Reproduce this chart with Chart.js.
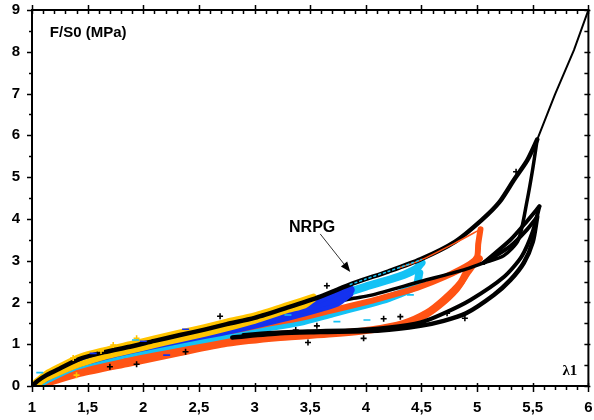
<!DOCTYPE html>
<html><head><meta charset="utf-8">
<script src="https://cdn.jsdelivr.net/npm/chart.js@4/dist/chart.umd.min.js"></script>
<style>html,body{margin:0;padding:0;background:#fff}canvas{display:block}</style>
</head><body>
<canvas id="c" width="594" height="420"></canvas>
<script>
// ---- tick values ----
const xTickValues = [1, 1.5, 2, 2.5, 3, 3.5, 4, 4.5, 5, 5.5, 6];
const yTickValues = [0, 1, 2, 3, 4, 5, 6, 7, 8, 9];

// ---- black series ----
const blackLoadX = [1, 1.05, 1.13, 1.25, 1.43, 1.65, 1.88, 2.1, 2.33, 2.55, 2.75, 3.0, 3.3, 3.59, 3.89, 4.2, 4.49, 4.8, 5.04, 5.2, 5.33, 5.45, 5.54];
const blackLoadY = [0, 0.12, 0.26, 0.42, 0.65, 0.81, 0.94, 1.08, 1.22, 1.35, 1.48, 1.63, 1.88, 2.14, 2.46, 2.74, 3.03, 3.45, 3.97, 4.4, 4.93, 5.4, 5.9];
const blackFinalX = [5.54, 5.7, 5.87, 6.0];
const blackFinalY = [5.9, 6.98, 8.04, 9.0];
const blackUn1X = [5.54, 5.5, 5.45, 5.37, 5.24, 5.06, 4.88, 4.49, 4.04, 3.89, 3.59, 3.44, 3.2, 2.95];
const blackUn1Y = [5.9, 5.2, 4.45, 3.49, 3.12, 2.95, 2.78, 2.5, 2.17, 2.1, 1.93, 1.82, 1.66, 1.52];
const blackRe2X = [5.06, 5.3, 5.45, 5.56];
const blackRe2Y = [2.95, 3.5, 3.95, 4.3];
const blackRe3X = [5.06, 5.3, 5.45, 5.54];
const blackRe3Y = [2.95, 3.35, 3.75, 4.05];
const blackUn2X = [5.56, 5.5, 5.4, 5.24, 4.94, 4.7, 4.49, 4.2, 3.9, 3.5, 3.2, 2.9];
const blackUn2Y = [4.3, 3.7, 3.1, 2.61, 2.06, 1.74, 1.52, 1.4, 1.34, 1.31, 1.28, 1.22];
const blackUn3X = [5.54, 5.5, 5.42, 5.3, 5.15, 4.9, 4.7, 4.49, 4.13, 3.59, 3.23, 2.8];
const blackUn3Y = [4.05, 3.45, 2.95, 2.54, 2.18, 1.74, 1.56, 1.44, 1.33, 1.29, 1.26, 1.16];
const blackDotsX = [3.65, 2.69, 3.56, 3.48, 4.16, 4.31, 3.98, 2.38, 1.94, 1.7, 4.89, 3.37, 5.35, 4.73];
const blackDotsY = [2.4, 1.67, 1.44, 1.04, 1.61, 1.66, 1.14, 0.82, 0.52, 0.46, 1.62, 1.34, 5.13, 1.74];

// ---- yellow series ----
const yellowLoadX = [1.0, 1.13, 1.25, 1.43, 1.65, 1.88, 2.1, 2.33, 2.55, 2.75, 3.0, 3.3, 3.53];
const yellowLoadY = [0.02, 0.3, 0.47, 0.7, 0.86, 1.0, 1.14, 1.28, 1.41, 1.54, 1.69, 1.94, 2.14];
const yellowUnX = [3.53, 3.45, 3.3, 3.0, 2.75, 2.55, 2.33, 2.1, 1.88, 1.65, 1.43, 1.25, 1.13, 1.05];
const yellowUnY = [2.08, 1.93, 1.82, 1.56, 1.38, 1.25, 1.12, 0.98, 0.84, 0.7, 0.52, 0.33, 0.18, 0.04];
const yellowDotsX = [1.37, 1.73, 1.94, 1.4, 1.62];
const yellowDotsY = [0.67, 0.98, 1.14, 0.26, 0.84];

// ---- blue series ----
const blueLoadX = [1.0, 1.25, 1.65, 2.1, 2.55, 3.0, 3.3, 3.59, 3.86];
const blueLoadY = [0, 0.38, 0.76, 1.03, 1.3, 1.56, 1.8, 2.06, 2.36];
const blueUnAX = [3.86, 3.75, 3.59, 3.3, 3.0, 2.7];
const blueUnAY = [2.3, 2.12, 1.98, 1.74, 1.52, 1.33];
const blueUnBX = [3.86, 3.75, 3.59, 3.3, 3.0, 2.7, 2.4, 2.0, 1.7, 1.4, 1.2, 1.05];
const blueUnBY = [2.2, 1.98, 1.84, 1.63, 1.44, 1.27, 1.12, 0.9, 0.72, 0.5, 0.28, 0.06];
const blueMarksX = [2.38, 1.55, 2.21, 2.0];
const blueMarksY = [1.36, 0.78, 0.74, 1.07];

// ---- cyan series ----
const cyanLoadX = [3.86, 4.0, 4.2, 4.35, 4.5];
const cyanLoadY = [2.43, 2.56, 2.74, 2.88, 3.03];
const cyanUpX = [4.5, 4.45, 4.3, 4.0, 3.7, 3.4, 3.1, 2.8];
const cyanUpY = [2.95, 2.8, 2.62, 2.38, 2.12, 1.9, 1.7, 1.5];
const cyanLowX = [4.48, 4.45, 4.2, 4.0, 3.7, 3.4, 3.0, 2.6, 2.2, 1.8, 1.4, 1.15, 1.03];
const cyanLowY = [2.7, 2.4, 2.1, 1.95, 1.74, 1.53, 1.35, 1.15, 0.95, 0.74, 0.48, 0.18, 0];
const cyanMarksX = [4.01, 3.74, 4.4, 4.14, 1.07, 1.93, 3.3];
const cyanMarksY = [1.58, 1.54, 2.18, 2.5, 0.32, 1.1, 1.7];

// ---- orange series ----
const orangeLoadX = [1.0, 1.16, 1.43, 1.88, 2.33, 2.75, 3.0, 3.3, 3.5];
const orangeLoadY = [0, 0.16, 0.38, 0.64, 0.9, 1.12, 1.3, 1.55, 1.75];
const orangeTopX = [4.3, 4.49, 4.8, 5.03];
const orangeTopY = [2.83, 3.01, 3.42, 3.75];
const orangeMidX = [5.03, 5.01, 5.0, 4.94, 4.7, 4.46, 4.2, 4.04, 3.68, 3.4, 3.14, 2.8];
const orangeMidY = [3.75, 3.4, 3.1, 2.93, 2.6, 2.35, 2.15, 2.03, 1.8, 1.62, 1.5, 1.32];
const orangeLowAX = [5.02, 4.94, 4.85, 4.7, 4.55, 4.34, 4.04, 3.7, 3.23, 2.75, 2.33, 1.88, 1.43, 1.2, 1.05];
const orangeLowAY = [3.05, 2.9, 2.46, 2.06, 1.75, 1.5, 1.34, 1.25, 1.16, 1.02, 0.8, 0.55, 0.3, 0.12, 0];
const orangeLowBX = [5.0, 4.92, 4.82, 4.66, 4.5, 4.3];
const orangeLowBY = [3.0, 2.7, 2.3, 1.9, 1.62, 1.45];

// ---- colours ----
const BLACK = '#000000', YELLOW = '#FFC400', BLUE = '#1432F0', CYAN = '#14C2F5', ORANGE = '#FF5314';

const pts = (xs, ys) => xs.map((x, i) => ({ x: x, y: ys[i] }));
function curve(xs, ys, color, width, order, extra) {
  return Object.assign({
    data: pts(xs, ys), showLine: true, borderColor: color, backgroundColor: color,
    borderWidth: width, pointRadius: 0, tension: 0.25, order: order,
    borderCapStyle: 'round', borderJoinStyle: 'round'
  }, extra || {});
}
function marks(xs, ys, color, style, r, order) {
  return { data: pts(xs, ys), showLine: false, pointStyle: style, pointRadius: r,
    borderColor: color, backgroundColor: color, pointBorderWidth: 1.6, order: order };
}

const datasets = [
  marks(blackDotsX, blackDotsY, BLACK, 'cross', 3, 1),
  marks(cyanMarksX, cyanMarksY, CYAN, 'line', 3.5, 2),
  marks(blueMarksX, blueMarksY, BLUE, 'line', 3.5, 2),
  marks(yellowDotsX, yellowDotsY, YELLOW, 'cross', 3, 2),
  curve(cyanLoadX, cyanLoadY, CYAN, 1.5, 3, { borderDash: [2, 3] }),
  curve(orangeTopX, orangeTopY, ORANGE, 1.5, 3),
  curve(blackLoadX, blackLoadY, BLACK, 4.5, 4),
  curve(blackFinalX, blackFinalY, BLACK, 2, 4, { tension: 0 }),
  curve(blackRe2X, blackRe2Y, BLACK, 4, 4),
  curve(blackRe3X, blackRe3Y, BLACK, 4, 4),
  curve(blackUn2X, blackUn2Y, BLACK, 4, 4),
  curve(blackUn3X, blackUn3Y, BLACK, 4.5, 4),
  curve(yellowLoadX, yellowLoadY, YELLOW, 6, 5),
  curve(yellowUnX, yellowUnY, YELLOW, 6, 5),
  curve(blueLoadX, blueLoadY, BLUE, 6, 6),
  curve(blueUnAX, blueUnAY, BLUE, 9, 6),
  curve(blueUnBX, blueUnBY, BLUE, 6, 6),
  curve(blackUn1X, blackUn1Y, BLACK, 3.5, 6.5),
  curve(orangeMidX, orangeMidY, ORANGE, 6, 6.8),
  curve(cyanUpX, cyanUpY, CYAN, 8, 7),
  curve(cyanLowX, cyanLowY, CYAN, 8, 7),
  curve(orangeLoadX, orangeLoadY, ORANGE, 5, 8),
  curve(orangeLowAX, orangeLowAY, ORANGE, 7, 8),
  curve(orangeLowBX, orangeLowBY, ORANGE, 5, 8)
];

const FONT = '"Liberation Sans", Arial, sans-serif';

const framePlugin = {
  id: 'frame',
  afterDraw(chart) {
    const ctx = chart.ctx, a = chart.chartArea;
    const xs = chart.scales.x, ys = chart.scales.y;
    ctx.save();
    ctx.strokeStyle = '#000';
    ctx.lineWidth = 2;
    ctx.strokeRect(a.left, a.top, a.right - a.left, a.bottom - a.top);
    ctx.lineWidth = 1.5;
    ctx.beginPath();
    for (let i = 10; i <= 60; i++) {
      const v = i / 10;
      const px = Math.round(xs.getPixelForValue(v)) + 0.5;
      const major = i % 5 === 0;
      ctx.moveTo(px, a.bottom + (major ? -3 : 0));
      ctx.lineTo(px, a.bottom + (major ? 6 : 4));
      ctx.moveTo(px, a.top + (major ? -5 : 0));
      ctx.lineTo(px, a.top + 4);
    }
    for (let i = 0; i <= 18; i++) {
      const v = i / 2;
      const py = Math.round(ys.getPixelForValue(v)) + 0.5;
      const major = i % 2 === 0;
      ctx.moveTo(a.left - (major ? 5 : 3), py);
      ctx.lineTo(a.left, py);
      ctx.moveTo(a.right - 4, py);
      ctx.lineTo(a.right + (major ? 2 : 0), py);
    }
    ctx.stroke();

    ctx.fillStyle = '#000';
    ctx.textBaseline = 'alphabetic';
    ctx.textAlign = 'left';
    ctx.font = 'bold 15px ' + FONT;
    ctx.fillText('F/S0 (MPa)', xs.getPixelForValue(1.16), ys.getPixelForValue(8.35));
    ctx.font = 'bold 16px ' + FONT;
    ctx.fillText('NRPG', xs.getPixelForValue(3.31), ys.getPixelForValue(3.69));
    ctx.textAlign = 'right';
    ctx.font = 'bold 15px "Liberation Serif", "Times New Roman", serif';
    ctx.fillText('λ1', xs.getPixelForValue(5.9), ys.getPixelForValue(0.26));

    const x1 = xs.getPixelForValue(3.59), y1 = ys.getPixelForValue(3.64);
    const x2 = xs.getPixelForValue(3.86), y2 = ys.getPixelForValue(2.73);
    const ang = Math.atan2(y2 - y1, x2 - x1);
    ctx.lineWidth = 1;
    ctx.strokeStyle = '#333';
    ctx.beginPath();
    ctx.moveTo(x1, y1);
    ctx.lineTo(x2 - 8 * Math.cos(ang), y2 - 8 * Math.sin(ang));
    ctx.stroke();
    ctx.fillStyle = '#000';
    ctx.beginPath();
    ctx.moveTo(x2, y2);
    ctx.lineTo(x2 - 10 * Math.cos(ang) + 4 * Math.sin(ang), y2 - 10 * Math.sin(ang) - 4 * Math.cos(ang));
    ctx.lineTo(x2 - 10 * Math.cos(ang) - 4 * Math.sin(ang), y2 - 10 * Math.sin(ang) + 4 * Math.cos(ang));
    ctx.closePath();
    ctx.fill();
    ctx.restore();
  }
};

new Chart(document.getElementById('c'), {
  type: 'scatter',
  data: { datasets: datasets },
  options: {
    responsive: false,
    animation: false,
    devicePixelRatio: 1,
    layout: { padding: { top: 10, right: 4, bottom: 0, left: 0 } },
    plugins: { legend: { display: false }, tooltip: { enabled: false } },
    elements: { line: { fill: false } },
    scales: {
      x: {
        type: 'linear', min: 1, max: 6,
        afterBuildTicks: (s) => { s.ticks = xTickValues.map(v => ({ value: v })); },
        afterFit: (s) => { s.height = 34; s.paddingLeft = 0; s.paddingRight = 0; },
        grid: { display: false, drawTicks: false },
        border: { display: false },
        ticks: {
          color: '#000', padding: 13, maxRotation: 0, autoSkip: false,
          font: { family: FONT, size: 15, weight: 'bold' },
          callback: (v) => String(v).replace('.', ',')
        }
      },
      y: {
        type: 'linear', min: 0, max: 9,
        afterBuildTicks: (s) => { s.ticks = yTickValues.map(v => ({ value: v })); },
        afterFit: (s) => { s.width = 32; s.paddingTop = 0; s.paddingBottom = 0; },
        grid: { display: false, drawTicks: false },
        border: { display: false },
        ticks: {
          color: '#000', padding: 12, autoSkip: false,
          font: { family: FONT, size: 15, weight: 'bold' }
        }
      }
    }
  },
  plugins: [framePlugin]
});
</script>
</body></html>
